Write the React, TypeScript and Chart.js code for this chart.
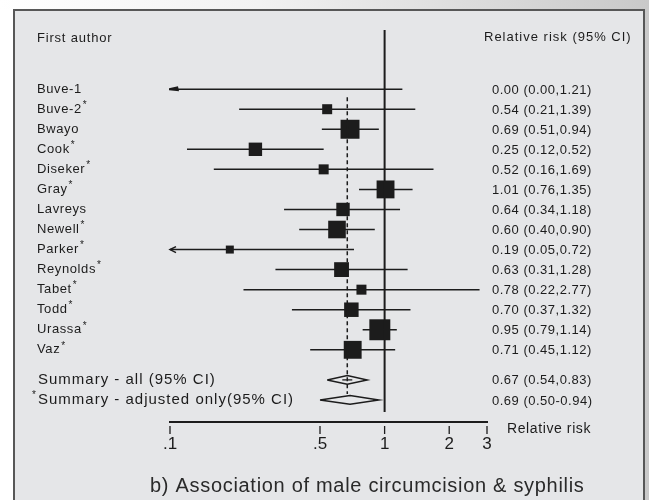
import React, { useEffect, useRef } from "react";
import { Chart, registerables } from "chart.js";
Chart.register(...registerables);

// ---------- data ----------
const studies = ["Buve-1", "Buve-2", "Bwayo", "Cook", "Diseker", "Gray", "Lavreys", "Newell", "Parker", "Reynolds", "Tabet", "Todd", "Urassa", "Vaz"];
const adjustedOnly = [false, true, false, true, true, true, false, true, true, true, true, true, true, true];
const rr = [0.0, 0.54, 0.69, 0.25, 0.52, 1.01, 0.64, 0.6, 0.19, 0.63, 0.78, 0.7, 0.95, 0.71];
const lower = [0.0, 0.21, 0.51, 0.12, 0.16, 0.76, 0.34, 0.4, 0.05, 0.31, 0.22, 0.37, 0.79, 0.45];
const upper = [1.21, 1.39, 0.94, 0.52, 1.69, 1.35, 1.18, 0.9, 0.72, 1.28, 2.77, 1.32, 1.14, 1.12];
const weights = [0.3, 1.0, 3.6, 1.8, 1.0, 3.2, 1.8, 3.1, 0.64, 2.2, 1.0, 2.1, 4.4, 3.2];
const ciText = ["0.00 (0.00,1.21)", "0.54 (0.21,1.39)", "0.69 (0.51,0.94)", "0.25 (0.12,0.52)", "0.52 (0.16,1.69)", "1.01 (0.76,1.35)", "0.64 (0.34,1.18)", "0.60 (0.40,0.90)", "0.19 (0.05,0.72)", "0.63 (0.31,1.28)", "0.78 (0.22,2.77)", "0.70 (0.37,1.32)", "0.95 (0.79,1.14)", "0.71 (0.45,1.12)"];

const summaryLabels = ["Summary - all (95% CI)", "Summary - adjusted only(95% CI)"];
const summaryRR = [0.67, 0.69];
const summaryLower = [0.54, 0.5];
const summaryUpper = [0.83, 0.94];
const summaryText = ["0.67 (0.54,0.83)", "0.69 (0.50-0.94)"];
const summaryRows = [14.5, 15.5];

const xTicks = [0.1, 0.5, 1, 2, 3];
const xTickLabels = [".1", ".5", "1", "2", "3"];
const xMin = 0.1;
const xMax = 3;

const titleText = "b) Association of male circumcision & syphilis";
const leftHeader = "First author";
const rightHeader = "Relative risk (95% CI)";
const axisTitle = "Relative risk";

// ---------- styles ----------
const INK = "#1c1c1c";
const FONT = "'Liberation Sans', Arial, sans-serif";
const NARROW = "'Liberation Sans Narrow', 'Liberation Sans', Arial, sans-serif";

function drawText(ctx: CanvasRenderingContext2D, text: string, x: number, y: number, size: number, spacing: number, family = FONT, color = INK) {
  ctx.save();
  ctx.font = `${size}px ${family}`;
  (ctx as any).letterSpacing = `${spacing}px`;
  ctx.fillStyle = color;
  ctx.textBaseline = "middle";
  ctx.textAlign = "left";
  ctx.fillText(text, x, y);
  const w = ctx.measureText(text).width;
  ctx.restore();
  return w;
}

const forestPlugin = {
  id: "forestText",
  afterDraw(chart: any) {
    const ctx: CanvasRenderingContext2D = chart.ctx;
    const xs = chart.scales.x;
    const ys = chart.scales.y;
    const area = chart.chartArea;

    // headers
    drawText(ctx, leftHeader, 37, 38, 13, 0.8);
    drawText(ctx, rightHeader, 484, 37, 13, 1.0);

    // study labels and CI texts
    studies.forEach((name, i) => {
      const y = ys.getPixelForValue(i);
      const w = drawText(ctx, name, 37, y, 13, 0.6);
      if (adjustedOnly[i]) drawText(ctx, "*", 37 + w + 1, y - 4, 10, 0);
      drawText(ctx, ciText[i], 492, y + 1, 13, 0.5);
    });

    // summaries
    summaryLabels.forEach((lab, k) => {
      const y = ys.getPixelForValue(summaryRows[k]);
      if (k === 1) drawText(ctx, "*", 32, y - 5, 10, 0);
      drawText(ctx, lab, 38, y, 15, 1.0);
      drawText(ctx, summaryText[k], 492, y + 1, 13, 0.5);
    });

    // small cross at the centre of the pooled estimate
    const yc = ys.getPixelForValue(summaryRows[0]);
    const xc = xs.getPixelForValue(summaryRR[0]);
    ctx.save();
    ctx.strokeStyle = INK;
    ctx.lineWidth = 1.3;
    ctx.beginPath();
    ctx.moveTo(xc - 5, yc);
    ctx.lineTo(xc + 5, yc);
    ctx.stroke();
    ctx.restore();

    // arrows for CIs truncated on the left
    studies.forEach((_, i) => {
      if (lower[i] >= xMin) return;
      const y = ys.getPixelForValue(i);
      const x0 = xs.getPixelForValue(xMin);
      ctx.save();
      ctx.strokeStyle = INK;
      ctx.fillStyle = INK;
      ctx.lineWidth = 1.5;
      if (rr[i] < xMin) {
        ctx.beginPath();
        ctx.moveTo(x0 - 1, y - 1);
        ctx.lineTo(x0 + 8, y - 3);
        ctx.lineTo(x0 + 9, y + 2);
        ctx.lineTo(x0 - 1, y + 1);
        ctx.closePath();
        ctx.fill();
      } else {
        ctx.beginPath();
        ctx.moveTo(x0 + 6, y - 3);
        ctx.lineTo(x0, y);
        ctx.lineTo(x0 + 6, y + 3);
        ctx.stroke();
      }
      ctx.restore();
    });

    // axis tick marks (with a small gap under the axis line)
    ctx.save();
    ctx.strokeStyle = INK;
    ctx.lineWidth = 1.3;
    xs.ticks.forEach((t: any) => {
      const x = xs.getPixelForValue(t.value);
      ctx.beginPath();
      ctx.moveTo(x, area.bottom + 4);
      ctx.lineTo(x, area.bottom + 12);
      ctx.stroke();
    });
    ctx.restore();

    // axis title
    drawText(ctx, axisTitle, 507, area.bottom + 7, 14, 0.6);

    // chart title
    drawText(ctx, titleText, 150, 486, 20, 0.7, FONT, "#2a2a2a");
  },
};

export default function App() {
  const ref = useRef<HTMLCanvasElement | null>(null);

  useEffect(() => {
    if (!ref.current) return;
    const datasets: any[] = [];

    // CI whiskers
    studies.forEach((_, i) => {
      datasets.push({
        type: "line",
        data: [
          { x: Math.max(lower[i], xMin), y: i },
          { x: upper[i], y: i },
        ],
        borderColor: INK,
        borderWidth: 1.5,
        pointRadius: 0,
        fill: false,
      });
    });

    // reference line at RR = 1
    datasets.push({
      type: "line",
      data: [
        { x: 1, y: -2.95 },
        { x: 1, y: 16.1 },
      ],
      borderColor: INK,
      borderWidth: 2,
      pointRadius: 0,
    });

    // dashed line at pooled estimate
    datasets.push({
      type: "line",
      data: [
        { x: summaryRR[0], y: 0.4 },
        { x: summaryRR[0], y: 15.2 },
      ],
      borderColor: INK,
      borderWidth: 1.5,
      borderDash: [4, 3],
      pointRadius: 0,
    });

    // summary diamonds
    summaryRR.forEach((est, k) => {
      const y = summaryRows[k];
      const h = 0.22;
      datasets.push({
        type: "line",
        data: [
          { x: summaryLower[k], y },
          { x: est, y: y - h },
          { x: summaryUpper[k], y },
          { x: est, y: y + h },
          { x: summaryLower[k], y },
        ],
        borderColor: INK,
        borderWidth: 1.5,
        pointRadius: 0,
        fill: false,
      });
    });

    // study squares (weighted)
    const pts: any[] = [];
    const radii: number[] = [];
    studies.forEach((_, i) => {
      if (rr[i] < xMin) return;
      pts.push({ x: rr[i], y: i });
      radii.push((10 * Math.sqrt(weights[i])) / Math.SQRT2);
    });
    datasets.push({
      type: "scatter",
      data: pts,
      pointStyle: "rect",
      pointRadius: radii,
      backgroundColor: INK,
      borderWidth: 0,
    });

    const chart = new Chart(ref.current, {
      type: "scatter",
      data: { datasets },
      options: {
        animation: false,
        responsive: false,
        maintainAspectRatio: false,
        layout: { padding: { left: 170, right: 162, top: 29, bottom: 38 } },
        plugins: { legend: { display: false }, tooltip: { enabled: false } },
        scales: {
          x: {
            type: "logarithmic",
            min: xMin,
            max: xMax,
            position: "bottom",
            afterBuildTicks: (scale: any) => {
              scale.ticks = xTicks.map((v) => ({ value: v }));
            },
            afterFit: (scale: any) => {
              scale.height = 40;
            },
            grid: { display: false },
            border: { display: true, color: INK, width: 2 },
            ticks: {
              autoSkip: false,
              maxRotation: 0,
              padding: 4,
              color: INK,
              font: { family: NARROW, size: 17 },
              callback: (_v: any, idx: number) => xTickLabels[idx],
            },
          },
          y: {
            type: "linear",
            display: false,
            reverse: true,
            min: -3,
            max: 16.6,
          },
        },
      },
      plugins: [forestPlugin],
    });
    return () => chart.destroy();
  }, []);

  return (
    <div
      style={{
        position: "fixed",
        left: 0,
        top: 0,
        width: 649,
        height: 500,
        overflow: "hidden",
        background: "linear-gradient(to right, #ffffff 0%, #f2f2f2 40%, #c9c9c9 100%)",
      }}
    >
      <div style={{ position: "absolute", left: 0, top: 9, width: 13, height: 491, background: "#ffffff" }} />
      <div
        style={{
          position: "absolute",
          left: 13,
          top: 9,
          width: 632,
          height: 495,
          background: "#e5e6e8",
          border: "2px solid #575757",
          boxSizing: "border-box",
        }}
      />
      <canvas ref={ref} width={649} height={500} style={{ position: "absolute", left: 0, top: 0, width: 649, height: 500 }} />
    </div>
  );
}
